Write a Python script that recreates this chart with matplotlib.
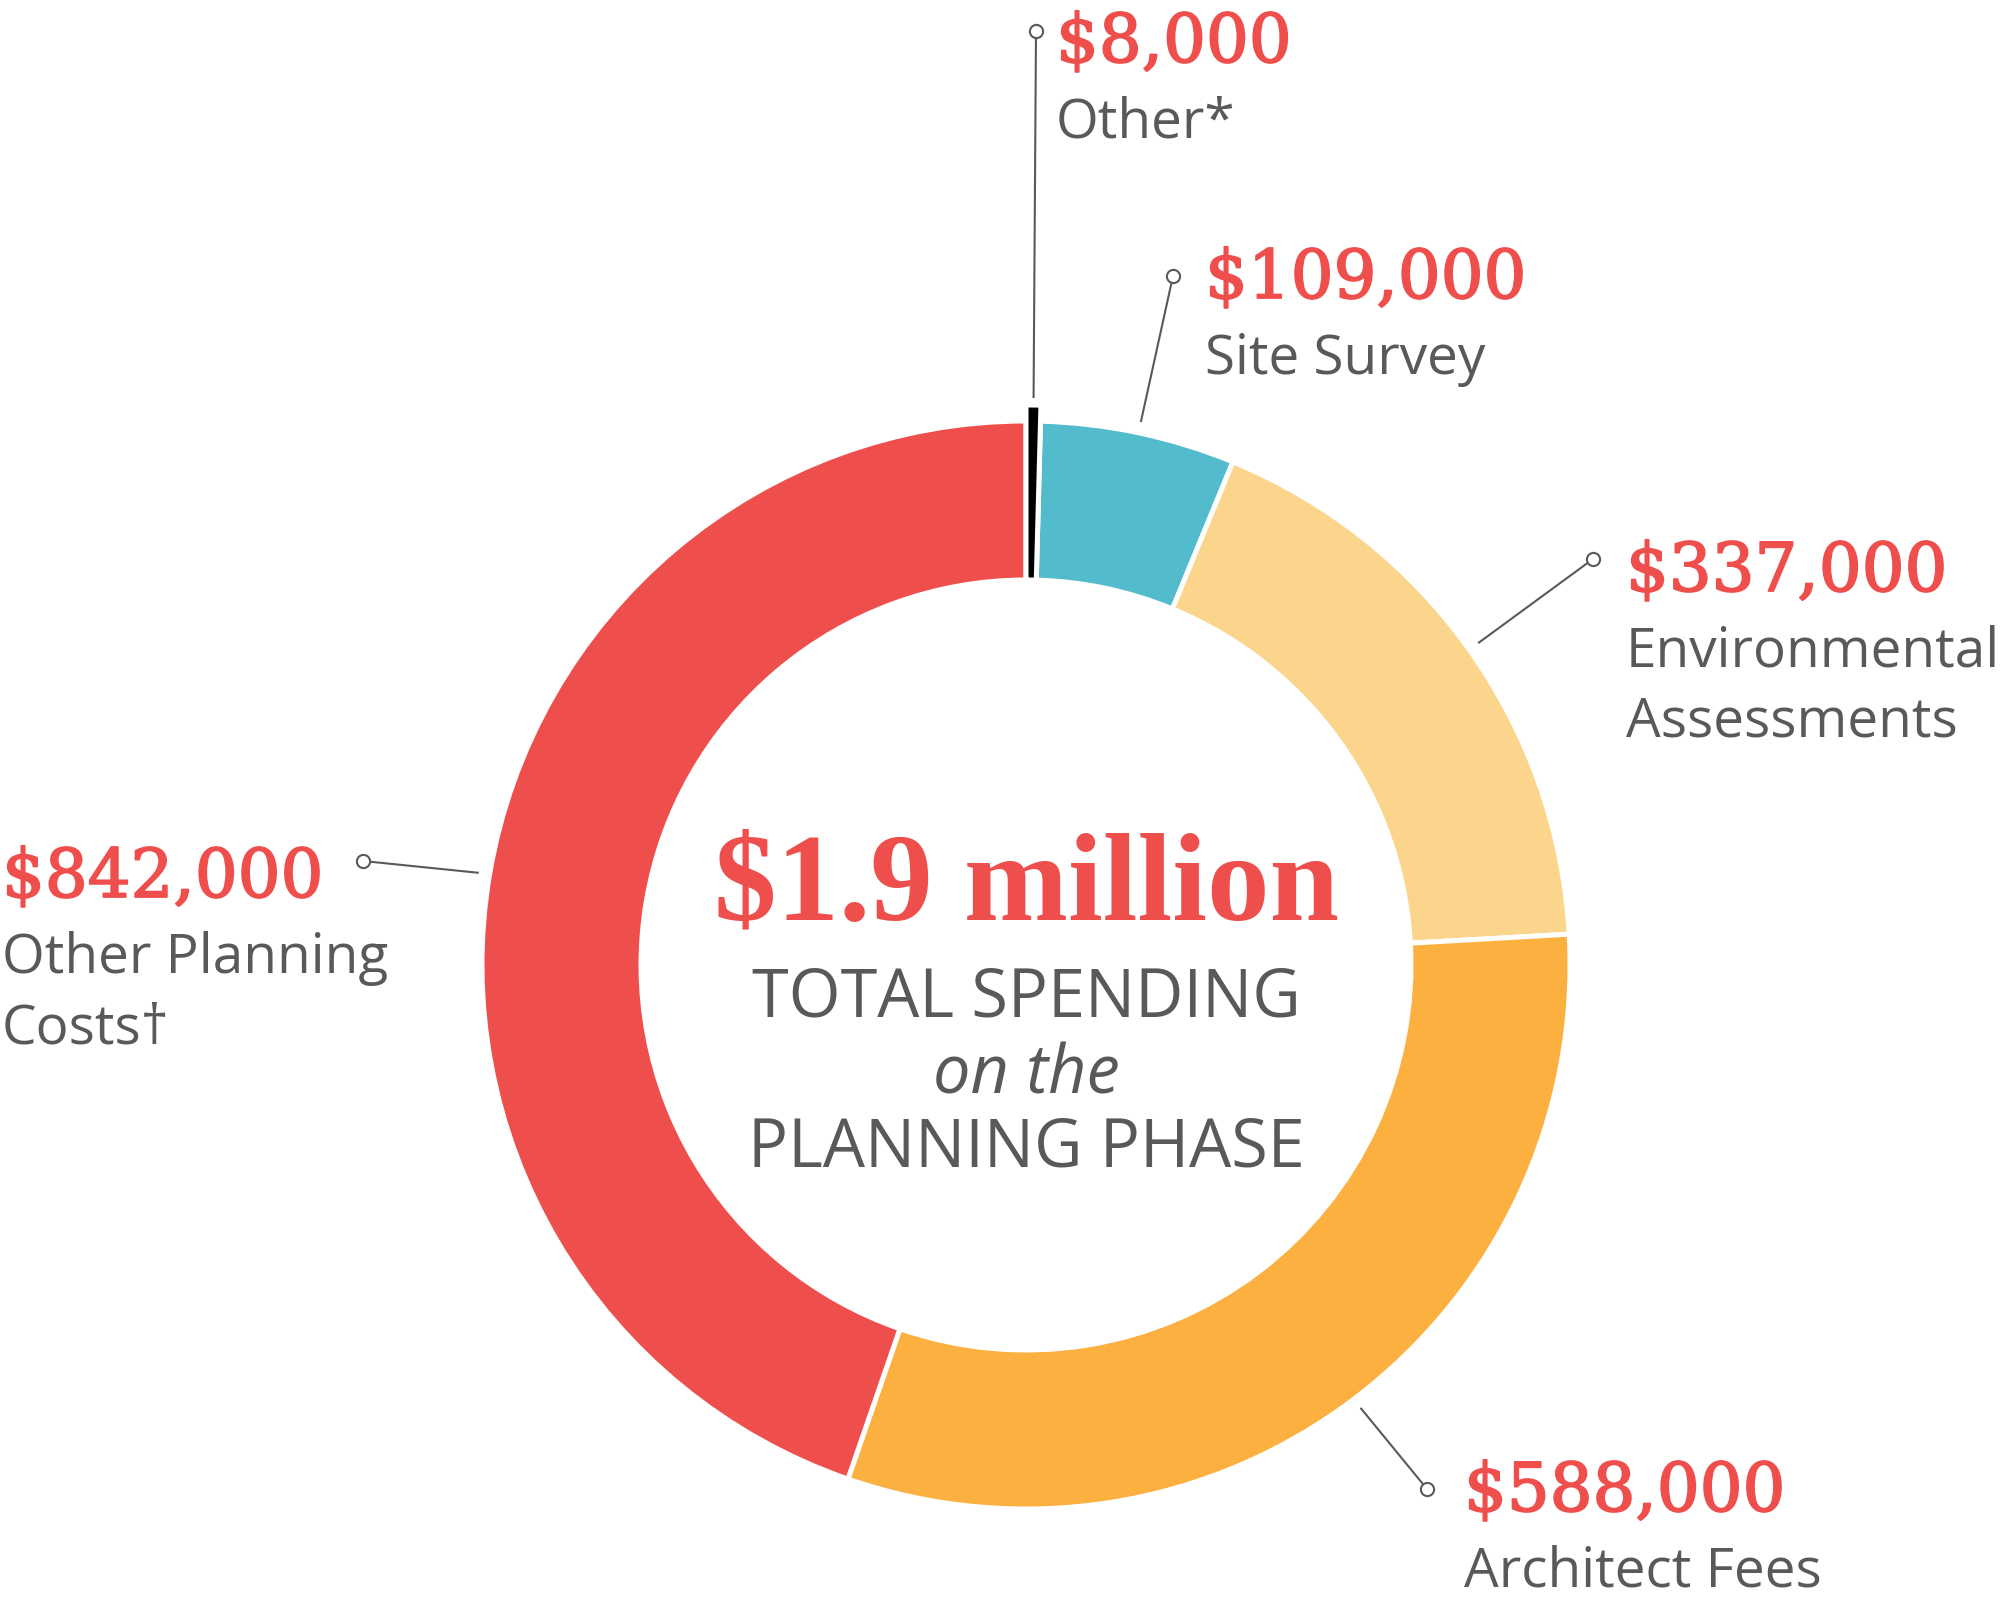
import matplotlib
matplotlib.use("Agg")
import matplotlib.pyplot as plt
import matplotlib.patheffects as pe
import numpy as np

# planning-phase spending, clockwise from 12 o'clock
categories = ["Other*", "Site Survey", "Environmental\nAssessments",
              "Architect Fees", "Other Planning\nCosts\u2020"]
amounts = [8000, 109000, 337000, 588000, 842000]
colors = ["#000000", "#52BCCC", "#FAD58B", "#FBB040", "#EF4F4C"]
total_label = "$1.9 million"

RED = "#EF4F4C"
GRAY = "#58595B"
W, H = 2000, 1606
CX, CY = 1026, 966          # ring centre in image pixels
R_OUT, R_IN = 544, 385

# label block anchors (left x, baseline of value line) and leader dot, image px
label_pos = [(1056, 63), (1205, 299), (1626, 592), (1464, 1512), (2, 898)]
dot_pos = [(1036, 32), (1173, 277), (1593, 560), (1427, 1490), (363, 862)]


def fy(y):
    return H - y


fig = plt.figure(figsize=(W / 100, H / 100), dpi=100)
ax = fig.add_axes([0, 0, 1, 1])

wp = dict(edgecolor="white", linewidth=3.6)
wedges, _ = ax.pie(amounts, colors=colors, startangle=90, counterclock=False,
                   center=(CX, fy(CY)), radius=R_OUT,
                   wedgeprops=dict(width=R_OUT - R_IN, **wp), frame=True)
wedges[0].set_visible(False)
# the tiny "Other" slice sticks out past the ring
big, _ = ax.pie(amounts, colors=colors, startangle=90, counterclock=False,
                center=(CX, fy(CY)), radius=R_OUT + 16,
                wedgeprops=dict(width=R_OUT + 16 - R_IN, **wp), frame=True)
for w in big[1:]:
    w.set_visible(False)
ax.set_xlim(0, W)
ax.set_ylim(0, H)
ax.set_aspect("equal")
ax.axis("off")

heavy = [pe.withStroke(linewidth=1.3, foreground=RED)]
for w, cat, amt, (lx, ly), (dx, dy) in zip(wedges, categories, amounts,
                                           label_pos, dot_pos):
    mid = np.deg2rad((w.theta1 + w.theta2) / 2)
    r0 = R_OUT + (24 if amt == amounts[0] else 12)
    x0 = CX + r0 * np.cos(mid)
    y0 = fy(CY) + r0 * np.sin(mid)
    ax.plot([x0, dx], [y0, fy(dy)], color=GRAY, lw=1.5, zorder=3)
    ax.plot(dx, fy(dy), "o", ms=9.5, mfc="white", mec=GRAY, mew=1.5, zorder=4)
    ax.text(lx, fy(ly), f"${amt:,.0f}", color=RED, fontsize=48.5,
            family="DejaVu Serif", ha="left", va="baseline", path_effects=heavy)
    for i, line in enumerate(cat.split("\n")):
        ax.text(lx, fy(ly + 75 + 70 * i), line, color=GRAY, fontsize=39.5,
                family=["Open Sans", "DejaVu Sans"], ha="left", va="baseline")

ax.text(CX, fy(920), total_label, color=RED, fontsize=90, weight="bold",
        family="Liberation Serif", ha="center", va="baseline")
ax.text(CX, fy(1017), "TOTAL SPENDING", color=GRAY, fontsize=48,
        family="Open Sans", ha="center", va="baseline")
ax.text(CX, fy(1093), "on the", color=GRAY, fontsize=48, style="italic",
        family="Open Sans", ha="center", va="baseline")
ax.text(CX, fy(1167), "PLANNING PHASE", color=GRAY, fontsize=48,
        family="Open Sans", ha="center", va="baseline")

fig.savefig("out.png", dpi=100)
